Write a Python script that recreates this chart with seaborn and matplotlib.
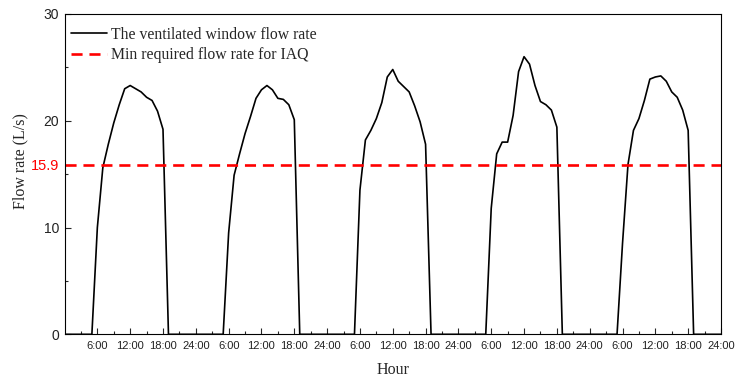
import numpy as np
import pandas as pd
import matplotlib
matplotlib.use("Agg")
import matplotlib.pyplot as plt
import seaborn as sns

# hourly flow rate (L/s), one list per day, hours 0..23
day1 = [0, 0, 0, 0, 0, 0, 10.0, 15.6, 17.8, 19.8, 21.5, 23.0, 23.3,
        23.0, 22.7, 22.2, 21.9, 20.9, 19.2, 0, 0, 0, 0, 0]
day2 = [0, 0, 0, 0, 0, 0, 9.5, 14.9, 16.9, 18.8, 20.4, 22.1, 22.9,
        23.3, 22.9, 22.1, 22.0, 21.5, 20.1, 0, 0, 0, 0, 0]
day3 = [0, 0, 0, 0, 0, 0, 13.5, 18.2, 19.1, 20.2, 21.7, 24.1, 24.8,
        23.7, 23.2, 22.7, 21.4, 19.9, 17.8, 0, 0, 0, 0, 0]
day4 = [0, 0, 0, 0, 0, 0, 11.8, 16.9, 18.0, 18.0, 20.5, 24.6, 26.0,
        25.3, 23.3, 21.8, 21.5, 21.0, 19.4, 0, 0, 0, 0, 0]
day5 = [0, 0, 0, 0, 0, 0, 8.5, 15.9, 19.1, 20.2, 21.9, 23.9, 24.1,
        24.2, 23.7, 22.7, 22.2, 21.0, 19.1, 0, 0, 0, 0, 0]
last_hour_value = [0]

min_flow = 15.9
day_labels = ["6:00", "12:00", "18:00", "24:00"]
n_days = 5

flow = day1 + day2 + day3 + day4 + day5 + last_hour_value
df = pd.DataFrame({"hour": np.arange(len(flow)), "flow": flow})

sns.set_style("ticks")
serif = ["Liberation Serif", "DejaVu Serif"]
plt.rcParams["font.family"] = ["Liberation Sans", "DejaVu Sans"]
plt.rcParams["xtick.direction"] = "in"
plt.rcParams["ytick.direction"] = "in"

fig = plt.figure(figsize=(7.4, 3.78), dpi=100)
ax = fig.add_axes([0.0872, 0.1156, 0.8871, 0.8474])

sns.lineplot(data=df, x="hour", y="flow", color="black", linewidth=1.2,
             ax=ax, label="The ventilated window flow rate")
ax.axhline(min_flow, color="#ff0000", linewidth=1.9, dashes=(4.2, 2.6),
           label="Min required flow rate for IAQ")

ax.set_xlim(0, 24 * n_days)
ax.set_ylim(0, 30)

xt = np.arange(6, 24 * n_days + 1, 6)
ax.set_xticks(xt)
ax.set_xticklabels(day_labels * n_days, fontsize=8, color="#222222")
ax.set_xticks(np.arange(3, 24 * n_days, 6), minor=True)

ax.set_yticks([0, 10, min_flow, 20, 30])
ax.set_yticklabels(["0", "10", "15.9", "20", "30"], fontsize=10, color="#222222")
ax.set_yticks([5, 15, 25], minor=True)
red_tick = ax.yaxis.get_major_ticks()[2]
red_tick.label1.set_color("#ff0000")
red_tick.label1.set_fontsize(10.5)
red_tick.tick1line.set_color("#ff0000")

ax.tick_params(which="major", length=4.5, width=0.8, pad=4)
ax.tick_params(which="minor", length=2.5, width=0.8)
ax.tick_params(axis="x", which="major", pad=5)
for side in ["top", "right"]:
    ax.spines[side].set_visible(True)
for sp in ax.spines.values():
    sp.set_linewidth(0.8)
    sp.set_color("black")

ax.set_xlabel("Hour", family=serif, fontsize=11.5, labelpad=8)
ax.set_ylabel("Flow rate (L/s)", family=serif, fontsize=11.5)
ax.yaxis.set_label_coords(-0.0556, 0.54)

ax.legend(loc="upper left", bbox_to_anchor=(0.005, 0.97), borderaxespad=0,
          frameon=False, prop={"family": serif, "size": 11.3},
          handlelength=2.3, handletextpad=0.25, labelspacing=0.28,
          borderpad=0.2)

fig.savefig("out.png", dpi=100)
